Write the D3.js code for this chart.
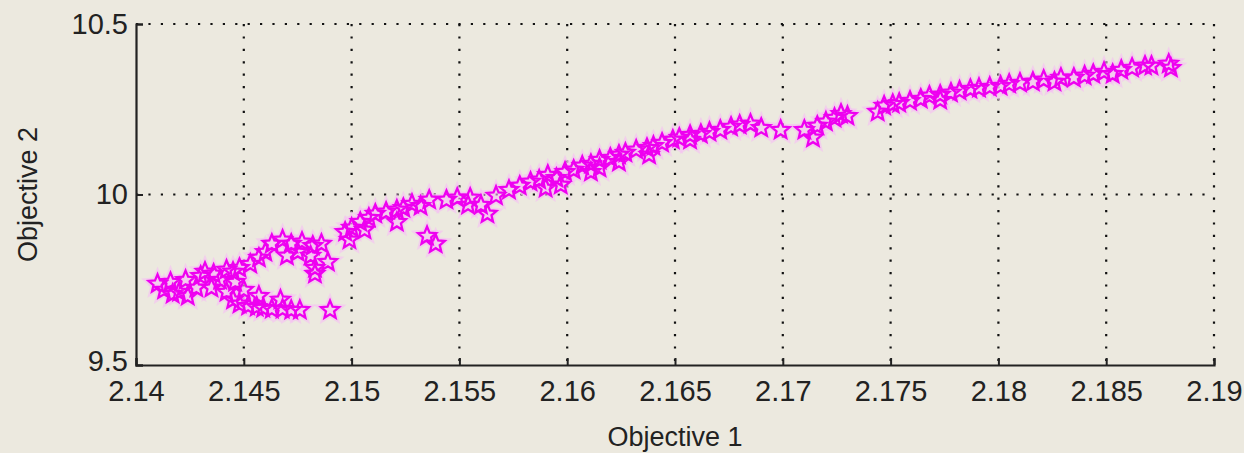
<!DOCTYPE html>
<html>
<head>
<meta charset="utf-8">
<script src="https://cdn.jsdelivr.net/npm/d3@7"></script>
<style>
  html, body { margin: 0; padding: 0; background: #ECE9DF; }
  svg { display: block; }
  text { font-family: "Liberation Sans", Arial, sans-serif; fill: #222; }
</style>
</head>
<body>
<script>
// values
const obj1 = [
  2.1410, 2.1413, 2.1417, 2.1420, 2.1424, 2.1428, 2.1430, 2.1432, 2.1436, 2.1439,
  2.1442, 2.1445, 2.1448, 2.1453, 2.1457, 2.1460, 2.1442, 2.1445, 2.1448, 2.1452,
  2.1456, 2.1459, 2.1463, 2.1468, 2.1472, 2.1476, 2.1490, 2.1435, 2.1450, 2.1446,
  2.1463, 2.1468, 2.1472, 2.1477, 2.1482, 2.1486, 2.1470, 2.1475, 2.1481, 2.1483,
  2.1483, 2.1489, 2.1497, 2.1500, 2.1504, 2.1508, 2.1511, 2.1516, 2.1521, 2.1524,
  2.1528, 2.1532, 2.1536, 2.1544, 2.1549, 2.1535, 2.1539, 2.1521, 2.1555, 2.1560,
  2.1563, 2.1567, 2.1573, 2.1578, 2.1583, 2.1587, 2.1591, 2.1595, 2.1599, 2.1603,
  2.1607, 2.1611, 2.1615, 2.1620, 2.1624, 2.1627, 2.1632, 2.1637, 2.1640, 2.1644,
  2.1649, 2.1652, 2.1657, 2.1662, 2.1666, 2.1671, 2.1676, 2.1680, 2.1685, 2.1690,
  2.1699, 2.1710, 2.1714, 2.1716, 2.1720, 2.1724, 2.1727, 2.1730, 2.1744, 2.1747,
  2.1751, 2.1754, 2.1759, 2.1764, 2.1768, 2.1773, 2.1778, 2.1782, 2.1787, 2.1791,
  2.1796, 2.1801, 2.1805, 2.1810, 2.1816, 2.1821, 2.1826, 2.1835, 2.1840, 2.1844,
  2.1849, 2.1853, 2.1857, 2.1862, 2.1868, 2.1871, 2.1879, 2.1880, 2.1590, 2.1597,
  2.1611, 2.1624, 2.1638, 2.1615, 2.1416, 2.1423, 2.1467, 2.1457, 2.1499, 2.1506,
  2.1554, 2.1657, 2.1829, 2.1773
];
const obj2 = [
  9.738, 9.720, 9.708, 9.714, 9.702, 9.726, 9.761, 9.773, 9.767, 9.749,
  9.779, 9.773, 9.784, 9.796, 9.814, 9.831, 9.714, 9.691, 9.679, 9.673,
  9.670, 9.667, 9.664, 9.664, 9.661, 9.661, 9.661, 9.726, 9.720, 9.743,
  9.855, 9.867, 9.855, 9.861, 9.849, 9.855, 9.820, 9.831, 9.820, 9.784,
  9.767, 9.802, 9.890, 9.902, 9.919, 9.931, 9.943, 9.949, 9.955, 9.960,
  9.972, 9.966, 9.984, 9.984, 9.990, 9.878, 9.855, 9.919, 9.990, 9.969,
  9.943, 9.996, 10.013, 10.025, 10.037, 10.043, 10.057, 10.048, 10.066, 10.072,
  10.084, 10.089, 10.101, 10.107, 10.116, 10.122, 10.131, 10.136, 10.142, 10.151,
  10.160, 10.166, 10.174, 10.177, 10.183, 10.189, 10.198, 10.204, 10.207, 10.195,
  10.189, 10.189, 10.166, 10.201, 10.213, 10.224, 10.236, 10.230, 10.242, 10.260,
  10.265, 10.268, 10.274, 10.280, 10.289, 10.292, 10.298, 10.304, 10.309, 10.312,
  10.315, 10.318, 10.324, 10.327, 10.330, 10.336, 10.330, 10.342, 10.348, 10.353,
  10.359, 10.353, 10.365, 10.371, 10.377, 10.377, 10.383, 10.371, 10.019, 10.028,
  10.066, 10.095, 10.116, 10.078, 9.743, 9.749, 9.691, 9.702, 9.867, 9.896,
  9.969, 10.160, 10.342, 10.277
];
const xTicks = [2.14, 2.145, 2.15, 2.155, 2.16, 2.165, 2.17, 2.175, 2.18, 2.185, 2.19];
const yTicks = [9.5, 10, 10.5];
const xLabel = "Objective 1";
const yLabel = "Objective 2";

const width = 1244;
const height = 453;
const margin = { top: 24, right: 30, bottom: 88, left: 136 };

const svg = d3.select("body").append("svg")
  .attr("width", width)
  .attr("height", height);

const x = d3.scaleLinear().domain([2.14, 2.19]).range([margin.left, width - margin.right]);
const y = d3.scaleLinear().domain([9.5, 10.5]).range([height - margin.bottom, margin.top]);

// dotted grid
const grid = svg.append("g")
  .attr("stroke", "#111")
  .attr("stroke-width", 2.2)
  .attr("stroke-dasharray", "2.2,10.2");
grid.selectAll("line.gx")
  .data(xTicks.slice(1))
  .join("line")
  .attr("class", "gx")
  .attr("x1", d => x(d)).attr("x2", d => x(d))
  .attr("y1", y(10.5)).attr("y2", y(9.5));
grid.selectAll("line.gy")
  .data(yTicks.slice(1))
  .join("line")
  .attr("class", "gy")
  .attr("x1", x(2.14)).attr("x2", x(2.19))
  .attr("y1", d => y(d)).attr("y2", d => y(d));

// pentagram marker, a bit fatter than d3.symbolStar
function pentagram(R) {
  const r = R * 0.45;
  const pts = d3.range(10).map(i => {
    const a = -Math.PI / 2 + i * Math.PI / 5;
    const rad = i % 2 ? r : R;
    return [rad * Math.cos(a), rad * Math.sin(a)];
  });
  return "M" + pts.map(p => p.join(",")).join("L") + "Z";
}
const starPath = pentagram(9.5);
const points = obj1.map((v, i) => ({ a: v, b: obj2[i] }));

// soft pink halo (as in the reference's image)
svg.append("g")
  .selectAll("path")
  .data(points)
  .join("path")
  .attr("transform", d => `translate(${x(d.a)},${y(d.b)})`)
  .attr("d", starPath)
  .attr("fill", "#f7bff5")
  .attr("stroke", "#f7bff5")
  .attr("stroke-width", 6)
  .attr("opacity", 0.6);

svg.append("g")
  .selectAll("path")
  .data(points)
  .join("path")
  .attr("transform", d => `translate(${x(d.a)},${y(d.b)})`)
  .attr("d", starPath)
  .attr("fill", "none")
  .attr("stroke", "#ee00f0")
  .attr("stroke-width", 2.3);

// axes (left and bottom, ticks inward)
const xAxis = d3.axisBottom(x).tickValues(xTicks).tickSize(-7).tickPadding(15)
  .tickFormat(d3.format("~g"));
const gx = svg.append("g")
  .attr("transform", `translate(0,${y(9.5)})`)
  .call(xAxis);
gx.select(".domain").attr("stroke", "#222").attr("stroke-width", 2.2);
gx.selectAll(".tick line").attr("stroke", "#222").attr("stroke-width", 2);
gx.selectAll(".tick text")
  .attr("font-size", 29)
  .attr("font-family", "Liberation Sans, Arial, sans-serif")
  .attr("fill", "#222");

const yAxis = d3.axisLeft(y).tickValues(yTicks).tickSize(-7).tickPadding(8)
  .tickFormat(d3.format("~g"));
const gy = svg.append("g")
  .attr("transform", `translate(${x(2.14)},0)`)
  .call(yAxis);
gy.select(".domain").attr("stroke", "#222").attr("stroke-width", 2.2);
gy.selectAll(".tick line").attr("stroke", "#222").attr("stroke-width", 2);
gy.selectAll(".tick text")
  .attr("font-size", 29)
  .attr("font-family", "Liberation Sans, Arial, sans-serif")
  .attr("fill", "#222")
  .attr("dy", d => d === 9.5 ? "0.2em" : "0.32em");

// axis labels
svg.append("text")
  .attr("x", (x(2.14) + x(2.19)) / 2)
  .attr("y", 446)
  .attr("text-anchor", "middle")
  .attr("font-size", 27)
  .text(xLabel);

svg.append("text")
  .attr("transform", `translate(37,${(y(9.5) + y(10.5)) / 2}) rotate(-90)`)
  .attr("text-anchor", "middle")
  .attr("font-size", 27)
  .text(yLabel);
</script>
</body>
</html>
